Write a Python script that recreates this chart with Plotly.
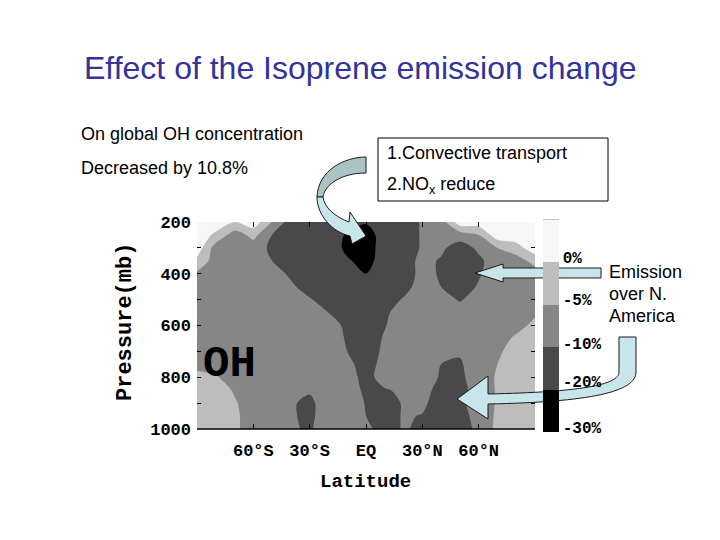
import numpy as np
import plotly.graph_objects as go

# ---------------- data ----------------
latitudes = list(range(-90, 91, 10))          # deg, S negative
pressures = list(range(200, 1001, 50))        # mb

# OH change (%), rows = pressures, cols = latitudes (-90 ... 90)
oh_change_pct = [
    [3, 3, 0, 3, -5, -15, -15, -15, -15, -19, -15, -15, -9.5, -7.5, 3, 3, 3, 3, 3],                     # 200
    [3, -1, -7.5, -3.5, -10, -15, -15, -15, -21, -25, -15, -15, -9.5, -7.5, -7.5, -5, 3, 3, 3],         # 250
    [3, -7.5, -7.5, -7.5, -12, -15, -15, -15, -22, -25, -15, -15, -9.5, -9, -15, -9, -5, -2, 3],        # 300
    [-1, -7.5, -7.5, -7.5, -10, -15, -15, -15, -19, -23, -16, -15, -8.5, -11, -15, -12, -7.5, -7.5, -3],  # 350
    [-6, -7.5, -7.5, -7.5, -7.5, -12, -15, -15, -15, -20, -15, -15, -8.5, -11, -15, -11, -7.5, -7.5, -7.5],  # 400
    [-7.5, -7.5, -7.5, -7.5, -7.5, -9, -15, -15, -15, -15, -15, -14, -7.5, -10, -15, -9.5, -7.5, -7.5, -7.5],  # 450
    [-7.5, -7.5, -7.5, -7.5, -7.5, -7.5, -9.5, -15, -15, -15, -15, -9.5, -7.5, -7.5, -11, -7.5, -7.5, -7.5, -7.5],  # 500
    [-7.5, -7.5, -7.5, -7.5, -7.5, -7.5, -7.5, -10, -15, -15, -12, -7.5, -7.5, -7.5, -7.5, -7.5, -7.5, -7.5, -6],  # 550
    [-7.5, -7.5, -7.5, -7.5, -7.5, -7.5, -7.5, -8, -12, -15, -10.5, -7.5, -7.5, -7.5, -7.5, -7.5, -7.5, -7, -3.5],  # 600
    [-7.5, -7.5, -7.5, -7.5, -7.5, -7.5, -7.5, -7.5, -11, -15, -9.5, -7.5, -7.5, -7.5, -7.5, -7.5, -7.5, -4, -2.5],  # 650
    [-7.5, -7.5, -7.5, -7.5, -7.5, -7.5, -7.5, -7.5, -10, -15, -9, -7.5, -7.5, -8, -9.5, -7.5, -6, -2.5, -2.5],     # 700
    [-6.5, -7.5, -7.5, -7.5, -7.5, -7.5, -7.5, -7.5, -8.5, -15, -8, -7.5, -7.5, -10, -11, -7.5, -5, -2.5, -2.5],    # 750
    [-3.5, -4.5, -7.5, -7.5, -7.5, -7.5, -7.5, -7.5, -7.5, -14, -7.5, -7.5, -7.5, -11, -12, -7.5, -4.5, -2.5, -2.5],  # 800
    [-2.5, -2.5, -5.5, -7.5, -7.5, -7.5, -9.5, -7.5, -7.5, -12, -11, -9, -7.5, -15, -13, -8, -4.5, -2.5, -2.5],     # 850
    [-2.5, -2.5, -4.5, -7.5, -7.5, -9.5, -12, -7.5, -7.5, -10.5, -15, -9.5, -9, -15, -12, -8, -4.5, -2.5, -2.5],    # 900
    [-2.5, -2.5, -4, -7.5, -7.5, -9.5, -12, -7.5, -7.5, -10, -15, -9.5, -10.5, -15, -12, -9, -4, -2.5, -2.5],       # 950
    [-2.5, -2.5, -4, -7.5, -7.5, -9.5, -11, -7.5, -7.5, -8.5, -15, -9.5, -12, -15, -12, -9.5, -3.5, -2.5, -2.5],    # 1000
]

# colour-bar class boundaries (%) and their labels
level_pct = [-30, -20, -10, -5, 0, 5]
level_idx = [0, 1, 2, 3, 4, 5]
cbar_labels = ["0%", "-5%", "-10%", "-20%", "-30%"]
cbar_label_pos = [4.12, 3.12, 2.1, 1.19, 0.1]
band_colors = ["#000000", "#494949", "#868686", "#bdbdbd", "#f6f6f6"]

lat_tickvals = [-60, -30, 0, 30, 60]
lat_ticktext = ["60°S", "30°S", "EQ", "30°N", "60°N"]
p_tickvals = [200, 400, 600, 800, 1000]
p_minor_ticks = [300, 500, 700, 900]

# ---------------- figure ----------------
W_, H_ = 720, 540
PL, PR, PT, PB = 197, 535, 222, 429


def px(x):
    return (x - PL) / (PR - PL)


def py(y):
    return (PB - y) / (PB - PT)


z_idx = np.interp(np.array(oh_change_pct, dtype=float), level_pct, level_idx)

mono = "Liberation Mono"
sans = "Liberation Sans, Arial"

stepped = []
for i, c in enumerate(band_colors):
    stepped.append([i / 5, c])
    stepped.append([(i + 1) / 5, c])

fig = go.Figure()
fig.add_trace(go.Contour(
    x=latitudes, y=pressures, z=z_idx,
    contours=dict(start=1, end=4, size=1, coloring="fill", showlines=False),
    line=dict(width=0, smoothing=0.9),
    colorscale=[[i / 4, c] for i, c in enumerate(band_colors)],
    showscale=False, hoverinfo="skip",
))
# colour bar (five equal classes)
fig.add_trace(go.Scatter(
    x=[-500], y=[600], mode="markers", hoverinfo="skip", showlegend=False,
    marker=dict(
        color=[0], cmin=0, cmax=5, colorscale=stepped, showscale=True, size=1,
        colorbar=dict(
            x=px(543), xanchor="left", xpad=0,
            y=py(220), yanchor="top", ypad=0,
            thickness=16, lenmode="pixels", len=212,
            outlinewidth=0,
            tickmode="array", tickvals=cbar_label_pos, ticktext=cbar_labels,
            ticks="", ticklabelposition="outside",
            tickfont=dict(family=mono, size=16, color="black", weight="bold"),
        ),
    ),
))

fig.update_layout(
    width=W_, height=H_,
    margin=dict(l=PL, r=W_ - PR, t=PT, b=H_ - PB, pad=0),
    paper_bgcolor="white", plot_bgcolor="white",
    showlegend=False,
    xaxis=dict(
        range=[-90, 90], tickmode="array", tickvals=lat_tickvals, ticktext=lat_ticktext,
        ticks="inside", ticklen=5, tickcolor="black", tickwidth=1,
        showline=False, mirror="ticks", showgrid=False, zeroline=False,
        tickfont=dict(family=mono, size=17, color="black", weight="bold"),
        ticklabelstandoff=9,
    ),
    yaxis=dict(
        range=[1000, 200], tickmode="array", tickvals=p_tickvals,
        ticktext=[str(v) for v in p_tickvals],
        ticks="inside", ticklen=4, tickcolor="black", tickwidth=1,
        minor=dict(tickmode="array", tickvals=p_minor_ticks, ticks="inside", ticklen=4,
                   tickcolor="black", tickwidth=1, showgrid=False),
        showline=False, mirror="ticks", showgrid=False, zeroline=False,
        tickfont=dict(family=mono, size=17, color="black", weight="bold"),
        ticklabelstandoff=5,
    ),
)

shapes = []
# bottom axis line
shapes.append(dict(type="line", xref="paper", yref="paper", x0=0, x1=1, y0=0, y1=0,
                   line=dict(color="black", width=1.5)))
# colour-bar top edge
shapes.append(dict(type="line", xref="paper", yref="paper", x0=px(543), x1=px(559),
                   y0=py(220), y1=py(220), line=dict(color="#888888", width=1)))
# text box
shapes.append(dict(type="rect", xref="paper", yref="paper", x0=px(378), x1=px(608),
                   y0=py(201), y1=py(138), line=dict(color="black", width=1),
                   fillcolor="white"))


def path(cmds):
    out = []
    for c in cmds:
        if isinstance(c, str):
            out.append(c)
        else:
            out.append(f"{px(c[0]):.5f},{py(c[1]):.5f}")
    return " ".join(out)


arrow_line = dict(color="#1a1a1a", width=1)
# curved arrow (upper part, darker)
shapes.append(dict(type="path", xref="paper", yref="paper", fillcolor="#a9c3c7", line=arrow_line,
                   path=path(["M", (366, 157), "C", (345, 157), (318, 170), (317, 197),
                              "L", (323, 197), "C", (325, 184), (342, 173), (366, 173), "Z"])))
# curved arrow (lower part, lighter)
shapes.append(dict(type="path", xref="paper", yref="paper", fillcolor="#c8e5eb", line=arrow_line,
                   path=path(["M", (317, 197), "C", (317, 215), (332, 232), (350, 236),
                              "L", (352, 244), "L", (366, 236), "L", (350, 212), "L", (349, 222),
                              "C", (335, 217), (324, 207), (323, 197), "Z"])))
# horizontal arrow (Emission)
shapes.append(dict(type="path", xref="paper", yref="paper", fillcolor="#c8e5eb", line=arrow_line,
                   path=path(["M", (601, 268), "L", (503, 268), "L", (503, 264), "L", (475, 273),
                              "L", (503, 282), "L", (503, 278), "L", (601, 278), "Z"])))
# bent arrow
shapes.append(dict(type="path", xref="paper", yref="paper", fillcolor="#c8e5eb", line=arrow_line,
                   path=path(["M", (619, 337), "L", (636, 337), "L", (636, 372),
                              "C", (636, 392), (590, 402), (488, 404),
                              "L", (488, 419), "L", (457, 399), "L", (488, 376), "L", (488, 394),
                              "C", (580, 392), (619, 385), (619, 372), "Z"])))
fig.update_layout(shapes=shapes)


def ann(text, x, y, size, xanchor="left", family=sans, color="black", weight="normal", angle=0):
    return dict(text=text, x=px(x), y=py(y), xref="paper", yref="paper",
                xanchor=xanchor, yanchor="middle", showarrow=False, textangle=angle,
                font=dict(family=family, size=size, color=color, weight=weight))


annotations = [
    ann("Effect of the Isoprene emission change", 360, 68, 32, xanchor="center", color="#333399"),
    ann("On global OH concentration", 79, 134, 18),
    ann("Decreased by 10.8%", 79, 168, 18),
    ann("1.Convective transport", 385, 153, 18),
    ann("2.NO<sub>x</sub> reduce", 385, 186, 18),
    ann("Emission", 607, 272, 18),
    ann("over N.", 607, 294, 18),
    ann("America", 607, 316, 18),
    ann("OH", 229, 364, 44, xanchor="center", family=mono, weight="bold"),
    ann("Latitude", 365, 482, 19, xanchor="center", family=mono, weight="bold"),
    ann("Pressure(mb)", 125, 322, 22, xanchor="center", family=mono, weight="bold", angle=-90),
]
fig.update_layout(annotations=annotations)

fig.write_html("out.html", config={"displayModeBar": False},
               post_script="document.body.style.margin='0px';")
